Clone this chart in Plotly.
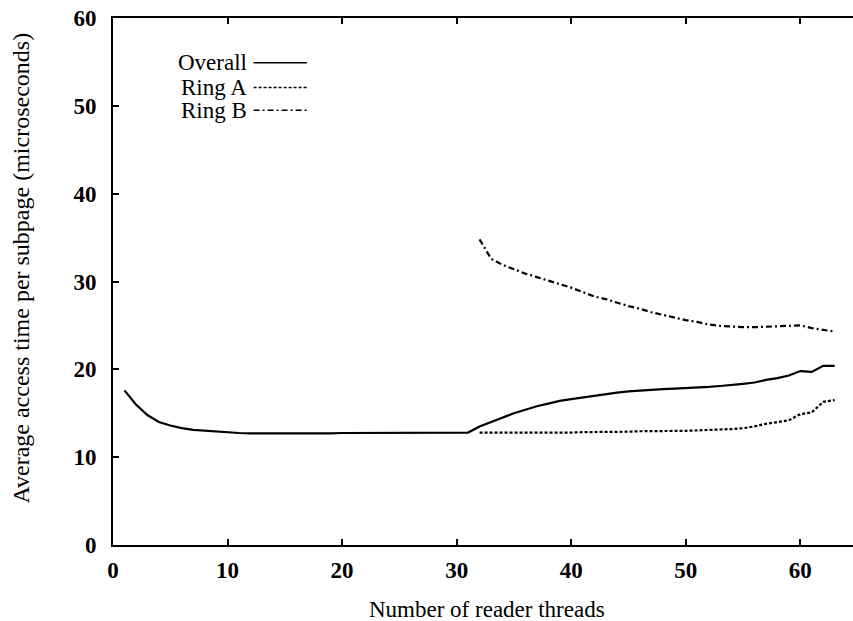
import plotly.graph_objects as go

# ---- data ----
overall_x = list(range(1, 64))
overall_y = [17.6, 16.0, 14.8, 14.0, 13.6, 13.3, 13.1, 13.0, 12.9, 12.8,
             12.75, 12.7, 12.7, 12.65, 12.65, 12.7, 12.7, 12.65, 12.7, 12.75,
             12.75, 12.8, 12.75, 12.8, 12.8, 12.8, 12.8, 12.8, 12.8, 12.8,
             12.8, 13.5, 14.0, 14.5, 15.0, 15.4, 15.8, 16.1, 16.4, 16.6,
             16.8, 17.0, 17.2, 17.35, 17.5, 17.6, 17.7, 17.75, 17.8, 17.85,
             17.9, 18.0, 18.1, 18.2, 18.35, 18.5, 18.8, 19.0, 19.3, 19.8,
             19.7, 20.4, 20.4]

ring_x = list(range(32, 64))
ring_a_y = [12.8, 12.8, 12.8, 12.75, 12.8, 12.8, 12.8, 12.8, 12.8, 12.85,
            12.85, 12.85, 12.9, 12.9, 12.95, 12.95, 13.0, 13.0, 13.0, 13.05,
            13.1, 13.1, 13.2, 13.3, 13.5, 13.8, 14.0, 14.2, 14.9, 15.1,
            16.3, 16.5]
ring_b_y = [34.8, 32.6, 31.9, 31.4, 30.9, 30.5, 30.1, 29.7, 29.3, 28.8,
            28.3, 28.0, 27.6, 27.2, 26.9, 26.5, 26.2, 25.9, 25.6, 25.4,
            25.1, 24.95, 24.85, 24.8, 24.8, 24.85, 24.9, 25.0, 25.0, 24.7,
            24.5, 24.3]

x_ticks = [0, 10, 20, 30, 40, 50, 60]
y_ticks = [0, 10, 20, 30, 40, 50, 60]

legend_names = ["Overall", "Ring A", "Ring B"]
legend_dashes = ["solid", "3px,2px", "6px,3px,2px,3px"]

x_title = "Number of reader threads"
y_title = "Average access time per subpage (microseconds)"

FONT = "Liberation Serif"

fig = go.Figure()
fig.add_trace(go.Scatter(x=overall_x, y=overall_y, mode="lines",
                         line=dict(color="black", width=2.2, dash=legend_dashes[0]),
                         name=legend_names[0], showlegend=False))
fig.add_trace(go.Scatter(x=ring_x, y=ring_a_y, mode="lines",
                         line=dict(color="black", width=2.2, dash=legend_dashes[1]),
                         name=legend_names[1], showlegend=False))
fig.add_trace(go.Scatter(x=ring_x, y=ring_b_y, mode="lines",
                         line=dict(color="black", width=2.2, dash=legend_dashes[2]),
                         name=legend_names[2], showlegend=False))

# legend drawn as text + sample lines (text left of sample, as in the reference)
leg_y = [0.915, 0.868, 0.825]
for name, dash, yy in zip(legend_names, legend_dashes, leg_y):
    fig.add_annotation(x=0.184, y=yy, xref="paper", yref="paper",
                       text=name, showarrow=False, xanchor="right", yanchor="middle",
                       font=dict(family=FONT, size=23, color="black"))
    fig.add_shape(type="line", xref="paper", yref="paper",
                  x0=0.19, x1=0.262, y0=yy, y1=yy,
                  line=dict(color="black", width=1.5, dash=dash))

# axis titles
fig.add_annotation(x=0.505, y=-0.123, xref="paper", yref="paper", text=x_title,
                   showarrow=False, xanchor="center", yanchor="middle",
                   font=dict(family=FONT, size=23, color="black"))
fig.add_annotation(x=-0.124, y=0.525, xref="paper", yref="paper", text=y_title,
                   showarrow=False, xanchor="center", yanchor="middle", textangle=-90,
                   font=dict(family=FONT, size=24, color="black"))

fig.update_layout(
    template="none",
    width=853, height=621,
    margin=dict(l=113, r=0, t=18, b=76, autoexpand=False),
    plot_bgcolor="white", paper_bgcolor="white",
    font=dict(family=FONT, color="black"),
    showlegend=False,
)
fig.update_xaxes(range=[0, 64.6], tickvals=x_ticks, ticks="inside", ticklen=6,
                 tickwidth=2, tickcolor="black", showline=True, linecolor="black",
                 linewidth=2, mirror="ticks", showgrid=False, zeroline=False,
                 automargin=False, ticklabelstandoff=3, ticklabeloverflow="allow",
                 tickfont=dict(family=FONT, size=23, color="black", weight="bold"))
fig.update_yaxes(range=[0, 60], tickvals=y_ticks, ticks="inside", ticklen=6,
                 tickwidth=2, tickcolor="black", showline=True, linecolor="black",
                 linewidth=2, mirror=False, showgrid=False, zeroline=False,
                 automargin=False, ticklabelstandoff=10, ticklabeloverflow="allow",
                 tickfont=dict(family=FONT, size=23, color="black", weight="bold"))

# remove the browser's default 8px body margin so the figure sits at the page corner
fig.write_html("out.html", config={"displayModeBar": False},
               post_script="document.body.style.margin='0';document.body.style.overflow='hidden';")
